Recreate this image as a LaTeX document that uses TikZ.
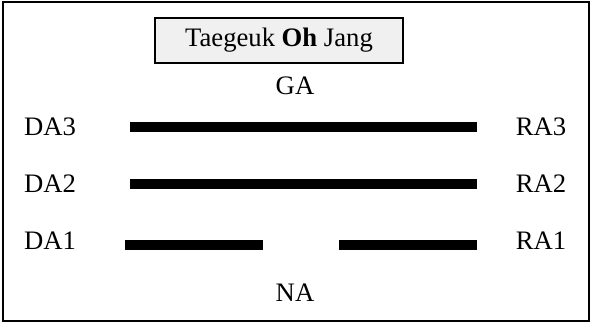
\documentclass[tikz,border=0pt]{standalone}
\usepackage{fontspec}
\setmainfont{Liberation Serif}
\begin{document}
\begin{tikzpicture}[x=0.75pt,y=-0.75pt,
    every node/.style={font=\fontsize{20}{24}\selectfont},
    bar/.style={line width=7.5pt}]
      \useasboundingbox (0,0) rectangle (592,324);
      \draw[line width=1.3pt] (3,2) rectangle (589,321);

      \node[draw,line width=1pt,fill=black!6,minimum width=186pt,minimum height=33.75pt,inner sep=0pt] (title) at (279,40.5) {Taegeuk \textbf{Oh} Jang};
      \node (ga) at (295,86) {GA};
      \node (na) at (295,293) {NA};

      \node (da3) at (50,127) {DA3};
      \node (da2) at (50,184) {DA2};
      \node (da1) at (50,241) {DA1};
      \node (ra3) at (541,127) {RA3};
      \node (ra2) at (541,184) {RA2};
      \node (ra1) at (541,241) {RA1};

      \draw[bar] (130,127) -- (477,127);
      \draw[bar] (130,184) -- (477,184);
      \draw[bar] (125,245) -- (263,245);
      \draw[bar] (339,245) -- (477,245);
    \end{tikzpicture}
\end{document}
